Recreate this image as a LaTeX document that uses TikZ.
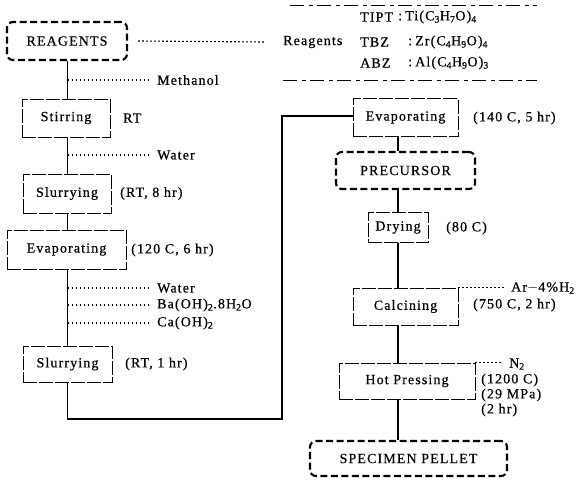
\documentclass[tikz,border=0pt]{standalone}
\usepackage{fontspec}
\setmainfont[LetterSpace=8,FakeBold=0.5]{Liberation Serif}
\begin{document}
\begin{tikzpicture}[x=1pt,y=-1pt,
  every node/.style={font=\fontsize{14}{16}\selectfont, inner sep=0pt},
  term/.style={draw, line width=2.1pt, dash pattern=on 7pt off 3.5pt, rounded corners=6pt},
  proc/.style={draw, line width=0.7pt, dash pattern=on 14pt off 2pt},
  lbl/.style={anchor=west},
  flow/.style={line width=1.2pt},
  side/.style={line width=1.1pt, dash pattern=on 1.8pt off 2.2pt},
  tabrule/.style={line width=0.6pt, dash pattern=on 14pt off 5pt on 4pt off 4pt}]
\useasboundingbox[fill=white] (0,0) rectangle (585,483);

% spines
\coordinate (lx) at (67.5,0);
\coordinate (rx) at (398,0);

% left column
\node[term, minimum width=120pt, minimum height=38pt] (reag) at (67,41) {REAGENTS};
\node[proc, minimum width=88pt, minimum height=38pt] (stir) at (66,118) {Stirring};
\node[proc, minimum width=88pt, minimum height=39pt] (slur1) at (67,193.5) {Slurrying};
\node[proc, minimum width=119pt, minimum height=39pt] (evap1) at (66.5,249.5) {Evaporating};
\node[proc, minimum width=89pt, minimum height=36pt] (slur2) at (67.5,364) {Slurrying};

% right column
\node[proc, minimum width=105pt, minimum height=38pt] (evap2) at (405.5,117.5) {Evaporating};
\node[term, minimum width=139pt, minimum height=37pt] (prec) at (405.5,170.5) {PRECURSOR};
\node[proc, minimum width=60pt, minimum height=30pt] (dry) at (398,227.5) {Drying};
\node[proc, minimum width=105pt, minimum height=37pt] (calc) at (405.5,306.5) {Calcining};
\node[proc, minimum width=136pt, minimum height=36pt] (hot) at (407,381) {Hot Pressing};
\node[term, minimum width=197pt, minimum height=35pt] (spec) at (408.5,458.5) {SPECIMEN PELLET};

% condition labels
\node[lbl] (tstir) at (123,118) {RT};
\node[lbl] (tslur1) at (120,193.5) {(RT, 8 hr)};
\node[lbl] (tevap1) at (131,250) {(120 C, 6 hr)};
\node[lbl] (tslur2) at (125,364) {(RT, 1 hr)};
\node[lbl] (tevap2) at (473,118) {(140 C, 5 hr)};
\node[lbl] (tdry) at (446,228) {(80 C)};
\node[lbl] (tcalc) at (473,305) {(750 C, 2 hr)};
\node[lbl] (thot1) at (481,380) {(1200 C)};
\node[lbl] (thot2) at (481,395) {(29 MPa)};
\node[lbl] (thot3) at (481,410) {(2 hr)};

% additive labels
\node[lbl] (tmeth) at (157,80) {Methanol};
\node[lbl] (twat1) at (157,155) {Water};
\node[lbl] (twat2) at (157,288) {Water};
\node[lbl] (tba) at (157,305) {Ba(OH)\textsubscript{2}.8H\textsubscript{2}O};
\node[lbl] (tca) at (157,323) {Ca(OH)\textsubscript{2}};
\node[lbl] (tar) at (511,288) {Ar$-$4\%H\textsubscript{2}};
\node[lbl] (tn2) at (509,364) {N\textsubscript{2}};

% reagents table
\node[lbl] (treag) at (283,42) {Reagents};
\node[lbl] (k1) at (360,17) {TIPT};
\node[lbl] (k2) at (360,42) {TBZ};
\node[lbl] (k3) at (360,63) {ABZ};
\node[lbl] (c1) at (398,17) {:};
\node[lbl] (c2) at (408,42) {:};
\node[lbl] (c3) at (408,63) {:};
\node[lbl] (f1) at (405,17) {Ti(C\textsubscript{3}H\textsubscript{7}O)\textsubscript{4}};
\node[lbl] (f2) at (415,42) {Zr(C\textsubscript{4}H\textsubscript{9}O)\textsubscript{4}};
\node[lbl] (f3) at (415,63) {Al(C\textsubscript{4}H\textsubscript{9}O)\textsubscript{3}};
\coordinate (r1a) at (290,5);
\coordinate (r1b) at (537,5);
\coordinate (r2a) at (283,80);
\coordinate (r2b) at (537,80);
\draw[tabrule] (r1a) -- (r1b);
\draw[tabrule] (r2a) -- (r2b);

% main flow, left
\draw[flow] (reag.south -| lx) -- (stir.north -| lx);
\draw[flow] (stir.south -| lx) -- (slur1.north -| lx);
\draw[flow] (slur1.south -| lx) -- (evap1.north -| lx);
\draw[flow] (evap1.south -| lx) -- (slur2.north -| lx);
\coordinate (b1) at (67.5,419);
\coordinate (b2) at (282,419);
\coordinate (b3) at (282,116);
\draw[flow] (slur2.south -| lx) -- (b1) -- (b2) -- (b3) -- (evap2.west |- b3);

% main flow, right
\draw[flow] (evap2.south -| rx) -- (prec.north -| rx);
\draw[flow] (prec.south -| rx) -- (dry.north -| rx);
\draw[flow] (dry.south -| rx) -- (calc.north -| rx);
\draw[flow] (calc.south -| rx) -- (hot.north -| rx);
\draw[flow] (hot.south -| rx) -- (spec.north -| rx);

% additive dotted lines
\draw[side] ([xshift=10pt]reag.east) -- ([xshift=-18pt]treag.west);
\draw[side] (tmeth.west -| lx) -- ([xshift=-8pt]tmeth.west);
\draw[side] (twat1.west -| lx) -- ([xshift=-8pt]twat1.west);
\draw[side] (twat2.west -| lx) -- ([xshift=-8pt]twat2.west);
\draw[side] (tba.west -| lx) -- ([xshift=-8pt]tba.west);
\draw[side] (tca.west -| lx) -- ([xshift=-8pt]tca.west);
\draw[side] (calc.north east) -- ([xshift=-6pt]tar.west |- calc.north east);
\draw[side] (hot.north east) -- ([xshift=-6pt]tn2.west |- hot.north east);
\end{tikzpicture}
\end{document}
